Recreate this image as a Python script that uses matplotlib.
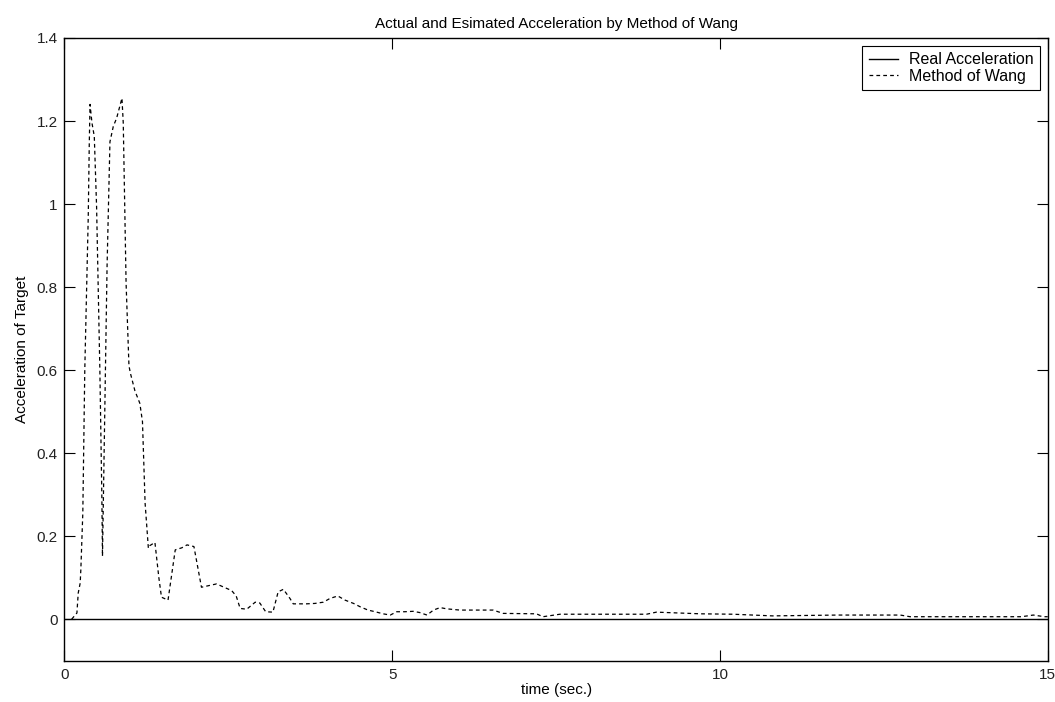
import matplotlib
matplotlib.use('Agg')
import matplotlib.pyplot as plt

plt.rcParams['font.family'] = ['Liberation Sans', 'DejaVu Sans']

# estimated acceleration (Method of Wang)
t_wang = [0.11, 0.19, 0.21, 0.24, 0.25, 0.28, 0.31, 0.363, 0.378, 0.39, 0.42, 0.455,
          0.49, 0.54, 0.57, 0.58, 0.61, 0.65, 0.694, 0.745, 0.796, 0.877, 0.897,
          0.94, 0.984, 1.01, 1.075, 1.15, 1.19, 1.23, 1.28, 1.30, 1.38, 1.44,
          1.48, 1.58, 1.69, 1.79, 1.87, 1.975, 2.09, 2.32, 2.42, 2.55, 2.62,
          2.68, 2.78, 2.91, 2.98, 3.07, 3.18, 3.26, 3.34, 3.44, 3.49, 3.69,
          3.82, 3.95, 4.05, 4.17, 4.28, 4.41, 4.51, 4.63, 4.74, 4.86, 4.97,
          5.07, 5.19, 5.32, 5.42, 5.53, 5.63, 5.73, 5.83, 6.03, 6.54, 6.69,
          7.2, 7.30, 7.56, 8.88, 9.03, 9.7, 10.2, 10.8, 11.8, 12.75, 12.9,
          14.6, 14.78, 14.95, 15.0]
v_wang = [0.0, 0.015, 0.063, 0.087, 0.12, 0.256, 0.60, 0.97, 1.14, 1.24, 1.195, 1.163,
          0.994, 0.60, 0.30, 0.152, 0.45, 0.85, 1.15, 1.187, 1.207, 1.255, 1.195,
          0.81, 0.61, 0.59, 0.55, 0.52, 0.476, 0.28, 0.171, 0.177, 0.185, 0.10,
          0.053, 0.046, 0.167, 0.172, 0.179, 0.175, 0.077, 0.085, 0.078, 0.069, 0.056,
          0.026, 0.024, 0.041, 0.039, 0.018, 0.017, 0.066, 0.072, 0.05, 0.037, 0.037,
          0.038, 0.041, 0.05, 0.056, 0.046, 0.038, 0.03, 0.022, 0.018, 0.013, 0.010,
          0.018, 0.018, 0.019, 0.016, 0.010, 0.022, 0.028, 0.025, 0.022, 0.022, 0.014,
          0.013, 0.006, 0.012, 0.012, 0.017, 0.013, 0.012, 0.008, 0.01, 0.01, 0.006,
          0.006, 0.01, 0.006, 0.006]

# real acceleration is zero all the way
t_real = [0, 15]
v_real = [0, 0]

fig = plt.figure(figsize=(10.55, 7.02), dpi=100)
ax = fig.add_axes([0.0611, 0.0588, 0.9320, 0.8871])

ax.plot(t_real, v_real, '-', color='k', lw=1.0, label='Real Acceleration')
ax.plot(t_wang, v_wang, color='k', lw=0.9, linestyle=(0, (3.0, 2.5)), label='Method of Wang')

ax.set_xlim(0, 15)
ax.set_ylim(-0.1, 1.4)
ax.set_xticks([0, 5, 10, 15])
ax.set_yticks([0, 0.2, 0.4, 0.6, 0.8, 1, 1.2, 1.4])
ax.set_yticklabels(['0', '0.2', '0.4', '0.6', '0.8', '1', '1.2', '1.4'])
ax.tick_params(direction='in', length=8, width=0.8, top=True, right=True,
               labelsize=11, colors='k', labelcolor='#222222', pad=5)
for s in ax.spines.values():
    s.set_linewidth(1.0)

ax.set_title('Actual and Esimated Acceleration by Method of Wang', fontsize=11, pad=7)
ax.set_xlabel('time (sec.)', fontsize=11, labelpad=1)
ax.set_ylabel('Acceleration of Target', fontsize=11, labelpad=5)

leg = ax.legend(loc='upper right', fontsize=11.5, frameon=True, fancybox=False,
                edgecolor='k', framealpha=1, borderaxespad=0.5, handlelength=1.8,
                handletextpad=0.7, borderpad=0.4, labelspacing=0.1)
leg.get_frame().set_linewidth(0.8)

fig.savefig('out.png', dpi=100)
